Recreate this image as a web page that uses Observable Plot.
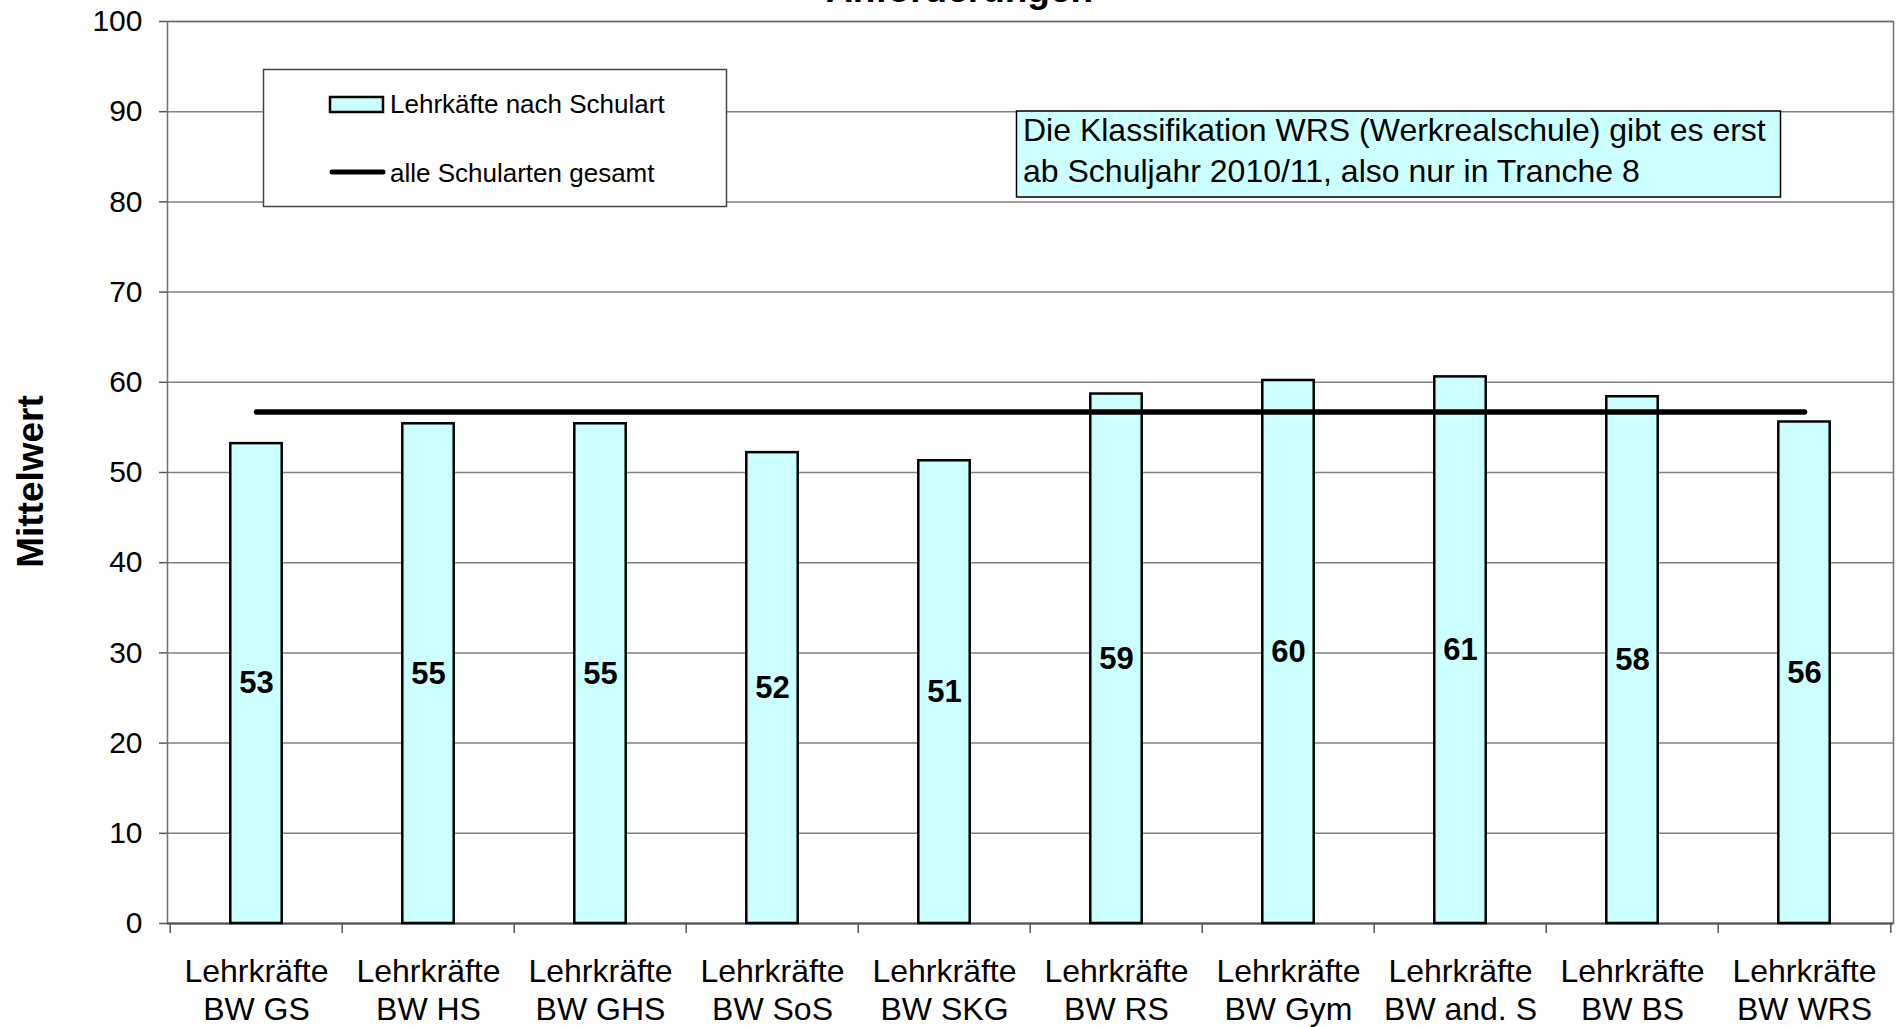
<!DOCTYPE html>
<html>
<head>
<meta charset="utf-8">
<script src="https://cdn.jsdelivr.net/npm/d3@7"></script>
<script src="https://cdn.jsdelivr.net/npm/@observablehq/plot@0.6"></script>
<style>
  html, body { margin: 0; padding: 0; background: white; }
  #wrap { position: relative; width: 1896px; height: 1027px; overflow: hidden; }
  #wrap svg { font-family: "Liberation Sans", Arial, sans-serif; }
  .overlay { position: absolute; left: 0; top: 0; pointer-events: none; }
</style>
</head>
<body>
<div id="wrap"></div>
<script>
// ---- data ----
const titleText = "Anforderungen";
const yLabel = "Mittelwert";
const categoryPrefix = "Lehrkräfte";
const categories = ["BW GS", "BW HS", "BW GHS", "BW SoS", "BW SKG", "BW RS", "BW Gym", "BW and. S", "BW BS", "BW WRS"];
const means = [53.2, 55.4, 55.4, 52.2, 51.3, 58.7, 60.2, 60.6, 58.4, 55.6];
const overallMean = [56.7];
const yTicks = [0, 10, 20, 30, 40, 50, 60, 70, 80, 90, 100];
const legendLabels = ["Lehrkäfte nach Schulart", "alle Schularten gesamt"];
const noteLines = ["Die Klassifikation WRS (Werkrealschule) gibt es erst", "ab Schuljahr 2010/11, also nur in Tranche 8"];

// ---- layout ----
const W = 1896, H = 1027;
const mL = 167, mR = 3, mT = 21, mB = 104;
const step = (W - mL - mR) / categories.length;
const barW = 52;
const inset = (step - barW) / 2;
const FONT = '"Liberation Sans", Arial, sans-serif';
const barFill = "#ccffff";

const rows = categories.map((c, i) => ({cat: c, value: means[i]}));
const lineRows = categories.map(c => ({cat: c, value: overallMean[0]}));

const chart = Plot.plot({
  width: W,
  height: H,
  marginLeft: mL,
  marginRight: mR,
  marginTop: mT,
  marginBottom: mB,
  style: {fontFamily: FONT, fontSize: "30px", color: "black", background: "white"},
  x: {type: "band", domain: categories, padding: 0, axis: null},
  y: {domain: [0, 100], axis: null},
  marks: [
    Plot.gridY(yTicks, {stroke: "#808080", strokeOpacity: 1, strokeWidth: 1.5}),
    Plot.frame({stroke: "#707070", strokeWidth: 1.5}),
    Plot.axisY({ticks: yTicks, tickSize: 8, tickPadding: 17, fontSize: 30, stroke: "#555", strokeWidth: 1.5, label: null, tickFormat: d3.format("d")}),
    Plot.axisX({ticks: categories, tickSize: 10, tickPadding: 0, tickFormat: () => "", dx: -step / 2, stroke: "#555", strokeWidth: 1.5, label: null}),
    Plot.axisX({ticks: categories.slice(-1), tickSize: 10, tickPadding: 0, tickFormat: () => "", dx: step / 2, stroke: "#555", strokeWidth: 1.5, label: null}),
    Plot.ruleY([0], {stroke: "#555", strokeWidth: 2}),
    Plot.barY(rows, {x: "cat", y: "value", fill: barFill, stroke: "black", strokeWidth: 2.5, insetLeft: inset, insetRight: inset}),
    Plot.lineY(lineRows, {x: "cat", y: "value", stroke: "black", strokeWidth: 5.5, strokeLinecap: "round"}),
    Plot.text(rows, {x: "cat", y: d => d.value / 2, text: d => d3.format(".0f")(d.value), fontSize: 31, fontWeight: "bold", fill: "black"}),
    Plot.text(categories, {x: d => d, frameAnchor: "bottom", dy: 31, lineAnchor: "top", lineHeight: 1.2, text: d => categoryPrefix + "\n" + d, fontSize: 32, fill: "black"}),
    Plot.text([yLabel], {frameAnchor: "left", textAnchor: "middle", dx: 31 - mL, dy: 9, rotate: -90, fontSize: 37, fontWeight: "bold", fill: "black"}),
    Plot.text([titleText], {frameAnchor: "top", textAnchor: "middle", lineAnchor: "bottom", dy: -20, dx: 959 - (mL + (W - mL - mR) / 2), fontSize: 37, fontWeight: "bold", fill: "black"})
  ]
});

const wrap = document.getElementById("wrap");
wrap.appendChild(chart);

// ---- legend & note overlay ----
const ov = d3.select(wrap).append("svg")
  .attr("class", "overlay")
  .attr("width", W).attr("height", H)
  .style("font-family", FONT);

// legend box
ov.append("rect").attr("x", 263.5).attr("y", 69.5).attr("width", 463).attr("height", 137)
  .attr("fill", "white").attr("stroke", "#444").attr("stroke-width", 1.5);
ov.append("rect").attr("x", 330).attr("y", 97).attr("width", 53).attr("height", 15)
  .attr("fill", barFill).attr("stroke", "black").attr("stroke-width", 2.5);
ov.append("text").attr("x", 390).attr("y", 113).attr("font-size", 26).attr("fill", "black").text(legendLabels[0]);
ov.append("line").attr("x1", 332).attr("x2", 383).attr("y1", 172).attr("y2", 172)
  .attr("stroke", "black").attr("stroke-width", 5).attr("stroke-linecap", "round");
ov.append("text").attr("x", 390).attr("y", 182).attr("font-size", 26).attr("fill", "black").text(legendLabels[1]);

// note box
ov.append("rect").attr("x", 1016.5).attr("y", 111).attr("width", 764).attr("height", 86)
  .attr("fill", barFill).attr("stroke", "black").attr("stroke-width", 1.5);
noteLines.forEach((t, i) => {
  ov.append("text").attr("x", 1023).attr("y", 141 + i * 41).attr("font-size", 32).attr("fill", "black").text(t);
});
</script>
</body>
</html>
